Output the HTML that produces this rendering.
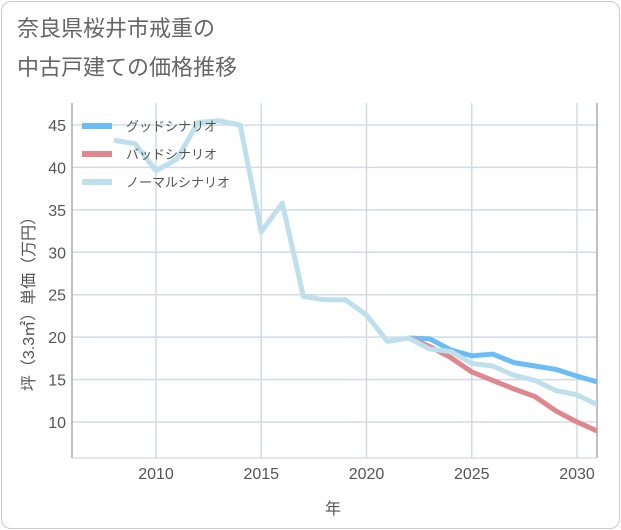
<!DOCTYPE html>
<html><head><meta charset="utf-8"><style>
body{margin:0;background:#fff;font-family:"Liberation Sans","Noto Sans CJK JP",sans-serif;}
#card{position:absolute;left:1px;top:1px;width:617px;height:526px;border:1px solid #ccc;border-radius:10px;background:#fff;}
</style></head><body>
<div id="card"></div>
<svg id="c" width="621" height="530" style="position:absolute;left:0;top:0"></svg>
<script>
const years=[2008,2009,2010,2011,2012,2013,2014,2015,2016,2017,2018,2019,2020,2021,2022,2023,2024,2025,2026,2027,2028,2029,2030,2031];
const normal=[43.2,42.8,39.6,41,45.3,45.5,45,32.4,35.8,24.8,24.4,24.4,22.6,19.5,19.9,18.6,18.3,16.9,16.6,15.5,14.9,13.7,13.2,12.0];
const goodYears=[2022,2023,2024,2025,2026,2027,2028,2029,2030,2031];
const good=[19.9,19.8,18.5,17.8,18.0,17.0,16.6,16.2,15.4,14.7];
const bad=[19.9,18.9,17.6,15.9,14.9,13.9,13.0,11.3,10.0,8.9];
const xTicks=[2010,2015,2020,2025,2030];
const yTicks=[10,15,20,25,30,35,40,45];
const L=72,R=597,T=103,B=458;
const x=v=>156+(v-2010)*21.05;
const y=v=>422-(v-10)*8.486;
const NS='http://www.w3.org/2000/svg',svg=document.getElementById('c');
function mk(t,a,p){const e=document.createElementNS(NS,t);for(const k in a)e.setAttribute(k,a[k]);(p||svg).appendChild(e);return e;}
function txt(s,a){const e=mk('text',a);e.textContent=s;return e;}
let t1=txt('奈良県桜井市戒重の',{x:17,y:36,'font-size':22,fill:'#666'});

let t2=txt('中古戸建ての価格推移',{x:17,y:75,'font-size':22,fill:'#666'});

mk('defs',{}).innerHTML='<clipPath id="pc"><rect x="'+L+'" y="'+T+'" width="'+(R-L)+'" height="'+(B-T)+'"/></clipPath>';
const grid=mk('g',{});
xTicks.forEach(v=>{mk('line',{x1:x(v),x2:x(v),y1:T,y2:B,stroke:'#d0dbe5','stroke-width':1.5},grid);
 const e=txt(v,{x:x(v),y:B+21,'font-size':16,fill:'#555','text-anchor':'middle'});});
yTicks.forEach(v=>{mk('line',{x1:L,x2:R,y1:y(v),y2:y(v),stroke:'#d0dbe5','stroke-width':1.5},grid);
 const e=txt(v,{x:L-6,y:y(v)+6,'font-size':16,fill:'#555','text-anchor':'end'});});
mk('line',{x1:L,x2:L,y1:T,y2:B,stroke:'#aab','stroke-width':1.5});
mk('line',{x1:R,x2:R,y1:T,y2:B,stroke:'#aab','stroke-width':1.5});
mk('line',{x1:L,x2:R,y1:B,y2:B,stroke:'#ccd','stroke-width':1});
function series(xs,vs,col,name){const p=mk('polyline',{points:xs.map((v,i)=>x(v)+','+y(vs[i])).join(' '),fill:'none',stroke:col,'stroke-width':5,'stroke-linejoin':'round','clip-path':'url(#pc)'});
 }
series(goodYears,good,'#6bbdf5','good-scenario-line');
series(goodYears,bad,'#e0868f','bad-scenario-line');
series(years,normal,'#bde0ec','normal-scenario-line');
const lg=mk('g',{});
[['グッドシナリオ','#6bbdf5'],['バッドシナリオ','#e0868f'],['ノーマルシナリオ','#bde0ec']].forEach((d,i)=>{
 const yy=126+i*28;
 const s=mk('rect',{x:82,y:yy-3,width:30,height:6,fill:d[1]},lg);
 const e=mk('text',{x:126,y:yy+5,'font-size':13,fill:'#555'},lg);e.textContent=d[0];});
const yt=txt('坪（3.3㎡）単価（万円）',{x:0,y:0,'font-size':16,fill:'#555','text-anchor':'middle',transform:'translate(34,300) rotate(-90)'});

const xt=txt('年',{x:333,y:514,'font-size':16,fill:'#555','text-anchor':'middle'});

</script></body></html>
